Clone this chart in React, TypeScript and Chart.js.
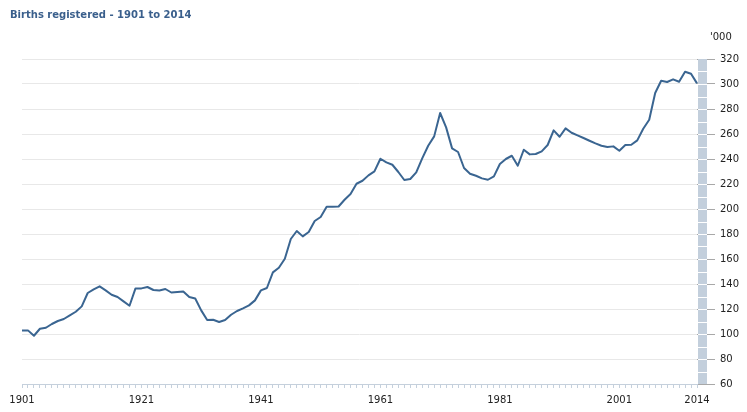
import React, { useEffect, useRef } from "react";
import { Chart, registerables } from "chart.js";

Chart.register(...registerables);

const title = "Births registered - 1901 to 2014";
const unitLabel = "'000";
const firstYear = 1901;
const births = [
  102.9, 102.9, 98.6, 104.2, 105.0, 108.0, 110.4, 112.0, 114.9, 117.8,
  122.1, 132.8, 135.7, 138.1, 134.9, 131.4, 129.6, 126.1, 122.6, 136.5,
  136.5, 137.6, 135.2, 134.8, 136.0, 133.2, 133.6, 134.0, 129.6, 128.4,
  118.9, 111.2, 111.4, 109.6, 111.2, 115.4, 118.4, 120.5, 122.9, 126.9,
  134.9, 136.8, 149.3, 153.0, 160.2, 176.0, 182.4, 178.1, 181.6, 190.4,
  193.6, 201.8, 201.8, 202.0, 207.4, 212.0, 220.2, 222.6, 226.9, 230.1,
  240.2, 237.3, 235.4, 229.6, 223.2, 224.0, 229.3, 240.5, 250.6, 258.1,
  276.8, 265.3, 248.5, 245.6, 232.8, 228.2, 226.6, 224.5, 223.4, 226.1,
  236.0, 240.0, 242.6, 234.6, 247.4, 243.7, 244.0, 246.1, 251.2, 262.9,
  257.8, 264.5, 261.0, 258.9, 256.8, 254.6, 252.5, 250.6, 249.6, 250.1,
  246.6, 251.2, 251.4, 254.9, 264.2, 271.4, 292.8, 302.6, 301.6, 303.7,
  301.8, 309.8, 308.2, 300.5,
];
const years = births.map((_, i) => String(firstYear + i));
const xTickLabels = ["1901", "1921", "1941", "1961", "1981", "2001", "2014"];
const yMin = 60;
const yMax = 320;
const yStep = 20;
const bandStep = 10;

const FONT = "'DejaVu Sans', Verdana, sans-serif";

const decorPlugin = {
  id: "decor",
  afterDatasetsDraw(chart: any) {
    const { ctx, scales } = chart;
    const x = scales.x;
    const y = scales.y;
    const x0 = Math.round(x.getPixelForValue(years.length - 1)) + 1;
    const top = y.getPixelForValue(yMax);
    const bottom = y.getPixelForValue(yMin);
    ctx.save();
    ctx.fillStyle = "#c3cfdc";
    ctx.fillRect(x0, top, 9, bottom - top);
    ctx.fillStyle = "#ffffff";
    for (let v = yMin + bandStep; v < yMax; v += bandStep) {
      ctx.fillRect(x0, Math.round(y.getPixelForValue(v)), 9, 1);
    }
    ctx.restore();
  },
  afterDraw(chart: any) {
    const { ctx, scales } = chart;
    const x = scales.x;
    const y = scales.y;
    ctx.save();
    ctx.textBaseline = "middle";
    ctx.textAlign = "left";
    ctx.fillStyle = "#3a5f8c";
    ctx.font = `bold 10px ${FONT}`;
    ctx.fillText(title, 10, 15);
    ctx.fillStyle = "#222222";
    ctx.font = `10px ${FONT}`;
    const xr = x.getPixelForValue(years.length - 1);
    ctx.fillText(unitLabel, xr + 13, y.getPixelForValue(yMax) - 22);
    ctx.restore();
  },
};

export default function App() {
  const ref = useRef<HTMLCanvasElement | null>(null);
  useEffect(() => {
    document.body.style.margin = "0";
    const canvas = ref.current;
    if (!canvas) return;
    const chart = new Chart(canvas, {
      type: "line",
      data: {
        labels: years,
        datasets: [
          {
            data: births,
            borderColor: "#3a6591",
            borderWidth: 2,
            pointRadius: 0,
            tension: 0,
            borderJoinStyle: "round",
            fill: false,
          },
        ],
      },
      options: {
        responsive: false,
        animation: false,
        layout: { padding: { left: 22, top: 59, right: 0, bottom: 0 } },
        plugins: {
          legend: { display: false },
          tooltip: { enabled: false },
          title: { display: false },
        },
        scales: {
          x: {
            type: "category",
            offset: false,
            afterFit: (s: any) => {
              s.height = 28;
            },
            grid: {
              drawOnChartArea: false,
              drawTicks: true,
              tickLength: 4,
              tickColor: "#c5d0dc",
            },
            border: { display: true, color: "#c5d0dc", width: 1 },
            ticks: {
              autoSkip: false,
              maxRotation: 0,
              minRotation: 0,
              padding: 6,
              color: "#222222",
              font: { family: FONT, size: 10 },
              callback: (_v: any, i: number) =>
                xTickLabels.includes(years[i]) ? years[i] : "",
            },
          },
          y: {
            position: "right",
            min: yMin,
            max: yMax,
            afterFit: (s: any) => {
              s.width = 50;
            },
            grid: {
              color: "#e8e8e8",
              lineWidth: 1,
              tickLength: 18,
              tickColor: "#a8a8a8",
            },
            border: { display: false },
            ticks: {
              stepSize: yStep,
              padding: 5,
              color: "#222222",
              font: { family: FONT, size: 10 },
            },
          },
        },
      },
      plugins: [decorPlugin],
    } as any);
    return () => chart.destroy();
  }, []);
  return (
    <div style={{ position: "absolute", left: 0, top: 0, width: 747, height: 412 }}>
      <canvas ref={ref} width={747} height={412} />
    </div>
  );
}
